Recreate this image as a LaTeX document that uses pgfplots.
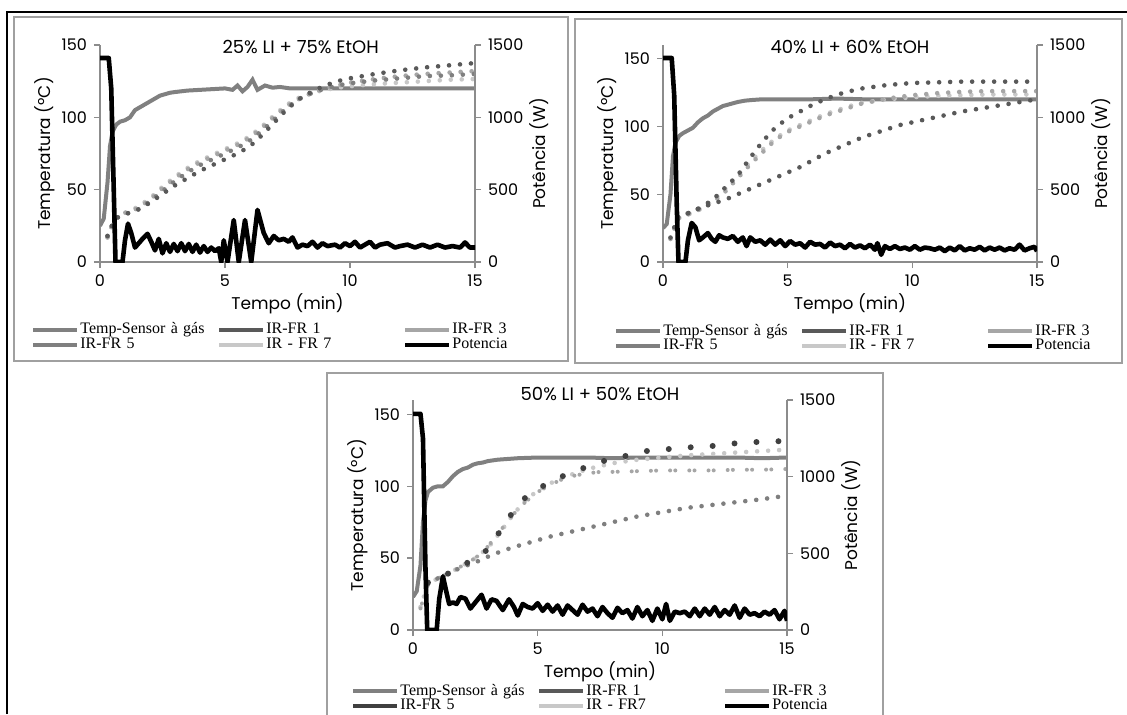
\documentclass[border=0pt]{standalone}
\usepackage{pgfplots}
\pgfplotsset{compat=1.18}
\usepackage{fontspec}
\setmainfont{Poppins}
\newfontfamily\legfont{Liberation Serif}

\definecolor{axgray}{HTML}{8C8C8C}
\definecolor{framegray}{HTML}{A0A0A0}
\definecolor{tsens}{HTML}{808080}
\definecolor{irA}{HTML}{595959}
\definecolor{irB}{HTML}{A6A6A6}
\definecolor{irC}{HTML}{7F7F7F}
\definecolor{irCdark}{HTML}{404040}
\definecolor{irD}{HTML}{C8C8C8}

\pgfplotsset{
  panel/.style={scale only axis, xmin=0, xmax=15, xtick={0,5,10,15},
    axis line style={draw=axgray, line width=0.7pt},
    every tick/.style={draw=axgray, line width=0.7pt},
    tick align=outside, major tick length=3pt,
    tick label style={font=\fontsize{8}{9}\selectfont},
    /pgf/number format/assume math mode=true,
    /pgf/number format/1000 sep={}},
  leftax/.style={panel, axis x line*=bottom, axis y line*=left,
    ymin=0, ytick={0,50,100,150},
    xlabel={Tempo (min)}, ylabel={Temperatura (ºC)},
    xlabel style={font=\fontsize{8.5}{9}\selectfont, at={(axis description cs:0.5,0)}, anchor=north, yshift=-12.5pt},
    ylabel style={font=\fontsize{8.5}{9}\selectfont, at={(axis description cs:-0.147,0.5)}, anchor=center},
    title style={font=\fontsize{9}{10}\selectfont, anchor=center}},
  rightax/.style={panel, axis x line=none, axis y line*=right,
    ymin=0, ymax=1500, ytick={0,500,1000,1500},
    ylabel={Potência (W)},
    ylabel style={font=\fontsize{8.5}{9}\selectfont, at={(axis description cs:1.172,0.5)}, anchor=center},
    legend columns=3,
    legend image code/.code={\draw[#1, solid, line width=2pt, line cap=butt] (0pt,0pt) -- (22pt,0pt);},
    legend style={draw=none, fill=none, anchor=north west,
      font=\legfont\fontsize{8}{8}\selectfont,
      nodes={inner sep=0.5pt, text width=68pt, align=left},
      row sep=-0.5pt, column sep=0pt}},
  tsline/.style={tsens, line width=2pt},
  pwline/.style={black, line width=2.3pt, line join=round},
  dots/.style={line width=2.3pt, line cap=round, dash pattern=on 0pt off 5.5pt},
}

\newcommand{\legimages}[1]{%
  \addlegendimage{tsens}\addlegendentry{Temp-Sensor à gás}
  \addlegendimage{irA}\addlegendentry{IR-FR 1}
  \addlegendimage{irB}\addlegendentry{IR-FR 3}
  \addlegendimage{#1}\addlegendentry{IR-FR 5}
  \addlegendimage{irD}}

\begin{document}
\begin{tikzpicture}
\useasboundingbox (0,0) rectangle (563.5pt,-357pt);
% outer lines and panel frames
\draw[black, line width=0.9pt] (3.5pt,-357pt) -- (3.5pt,-6pt) -- (563.5pt,-6pt);
\draw[framegray, line width=0.9pt] (7pt,-8.5pt) rectangle (284pt,-180.5pt);
\draw[framegray, line width=0.9pt] (287.5pt,-9.5pt) rectangle (561pt,-181.5pt);
\draw[framegray, line width=0.9pt] (163.5pt,-186.5pt) rectangle (441.5pt,-362pt);

% ---------- panel 1: 25% LI ----------
\begin{axis}[leftax, at={(50pt,-131pt)}, anchor=south west, width=187.5pt, height=108.5pt,
  ymax=150, title={25\% LI + 75\% EtOH}, title style={at={(axis description cs:0.535,1)}, yshift=-7pt}]
\addplot[tsline] coordinates {(0,25)(0.15,30)(0.3,55)(0.4,80)(0.5,90)(0.65,95)(0.8,97)(1.0,98)(1.2,100)(1.4,105)(1.6,107)(1.8,109)(2.0,111)(2.2,113)(2.4,115)(2.6,116)(2.8,117)(3.0,117.5)(3.5,118.5)(4.0,119)(4.5,119.5)(5.0,120)(5.3,119)(5.5,122)(5.7,118)(5.9,121)(6.1,126)(6.3,119)(6.6,122)(6.9,120.5)(7.2,121)(7.6,120)(8,120)(9,120)(10,120)(11,120)(12,120)(13,120)(14,120)(15,120)};
\addplot[dots, irD] coordinates {(0.3,17)(0.6,31)(1,34)(1.5,38)(2,44)(2.5,52)(3,59)(3.5,65)(4,70)(4.5,74)(5,78)(5.5,82)(6,87)(6.5,94)(7,102)(7.5,109)(8,114)(8.5,117)(9,119)(9.5,120.5)(10,121.5)(11,123)(12,124)(13,125)(14,126)(15,126.5)};
\addplot[dots, irB] coordinates {(0.3,17)(0.6,31)(1,34)(1.5,37)(2,43)(2.5,51)(3,58)(3.5,64)(4,69)(4.5,73)(5,77)(5.5,81)(6,86)(6.5,93)(7,101)(7.5,108)(8,113)(8.5,117)(9,120)(9.5,122)(10,124)(11,126.5)(12,128.5)(13,130)(14,131)(15,132)};
\addplot[dots, irC] coordinates {(0.3,18)(0.6,30)(1,33)(1.5,36)(2,42)(2.5,49)(3,56)(3.5,62)(4,67)(4.5,71)(5,75)(5.5,79)(6,84)(6.5,91)(7,99)(7.5,107)(8,113)(8.5,117)(9,120)(9.5,122)(10,123.5)(11,125.5)(12,127)(13,128.5)(14,129)(15,130)};
\addplot[dots, irA] coordinates {(0.3,18)(0.6,30)(1,33)(1.5,36)(2,41)(2.5,47)(3,53)(3.5,58)(4,63)(4.5,67)(5,71)(5.5,75)(6,80)(6.5,88)(7,97)(7.5,106)(8,113)(8.5,118)(9,122)(9.5,125)(10,127)(11,130)(12,132.5)(13,134.5)(14,136)(15,137.5)};
\end{axis}
\begin{axis}[rightax, at={(50pt,-131pt)}, anchor=south west, width=187.5pt, height=108.5pt,
  legend style={at={(axis description cs:-0.2,-0.255)}}]
\legimages{irC}\addlegendentry{IR - FR 7}
\addplot[pwline] coordinates {(0,1410)(0.35,1410)(0.45,1200)(0.55,500)(0.62,0)(0.9,0)(1.0,150)(1.12,265)(1.25,200)(1.4,100)(1.55,130)(1.7,160)(1.9,195)(2.05,140)(2.2,80)(2.35,160)(2.5,60)(2.65,130)(2.8,70)(2.95,125)(3.1,75)(3.25,130)(3.4,75)(3.55,125)(3.7,70)(3.85,120)(4.0,65)(4.15,110)(4.3,70)(4.45,100)(4.6,75)(4.75,95)(4.85,0)(4.95,150)(5.1,0)(5.35,290)(5.55,0)(5.8,290)(6.05,0)(6.3,360)(6.55,200)(6.75,130)(6.95,180)(7.15,150)(7.35,160)(7.55,140)(7.7,170)(7.9,100)(8.1,120)(8.3,110)(8.5,140)(8.7,100)(8.9,130)(9.1,110)(9.4,120)(9.6,100)(9.8,130)(10.0,110)(10.2,140)(10.4,100)(10.6,120)(10.8,140)(11.0,100)(11.2,120)(11.5,130)(11.8,100)(12.0,110)(12.3,120)(12.6,100)(12.9,120)(13.2,100)(13.5,120)(13.8,100)(14.1,110)(14.4,100)(14.6,135)(14.8,100)(15,100)};
\addlegendentry{Potencia}
\end{axis}

% ---------- panel 2: 40% LI ----------
\begin{axis}[leftax, at={(331.5pt,-131pt)}, anchor=south west, width=187pt, height=108.5pt,
  ymax=160, title={40\% LI + 60\% EtOH}, title style={at={(axis description cs:0.5,1)}, yshift=-7pt}]
\addplot[tsline] coordinates {(0,25)(0.15,28)(0.3,50)(0.4,78)(0.5,88)(0.65,93)(0.8,95)(1.0,97)(1.2,99)(1.4,103)(1.6,106)(1.8,108)(2.0,111)(2.2,113)(2.4,115)(2.6,116)(2.8,117)(3.0,118)(3.3,119)(3.6,119.5)(4,120)(5,120)(6,120)(7,120.5)(8,120)(9,120)(10,120)(11,120)(12,120)(13,120)(14,120)(15,120)};
\addplot[dots, irD] coordinates {(0.3,18)(0.6,32)(1,35)(1.5,39)(2,45)(2.5,54)(3,64)(3.5,74)(4,83)(4.5,91)(5,97)(5.5,101)(6,105)(6.5,109)(7,112)(7.5,115)(8,117.5)(9,120)(10,121.5)(11,122.5)(12,123)(13,123.5)(14,123.5)(15,123.5)};
\addplot[dots, irB] coordinates {(0.3,17)(0.6,32)(1,35)(1.5,39)(2,44)(2.5,52)(3,62)(3.5,72)(4,81)(4.5,90)(5,96)(5.5,100)(6,104)(6.5,108)(7,111)(7.5,114)(8,117)(9,120.5)(10,123)(11,124.5)(12,125.5)(13,126)(14,126)(15,126)};
\addplot[dots, irA] coordinates {(0.6,32)(1,36)(1.5,40)(2,43)(2.5,46)(3,50)(3.5,54)(4,58)(4.5,62)(5,66)(5.5,70)(6,75)(6.5,80)(7,84)(7.5,88)(8,92)(8.5,95)(9,98)(9.5,101)(10,103)(11,107)(12,111)(13,114)(14,117)(15,120)};
\addplot[dots, irA] coordinates {(0.3,18)(0.6,33)(1,36)(1.5,40)(2,46)(2.5,55)(3,64)(3.5,77)(4,89)(4.5,99)(5,106)(5.5,111)(6,116)(6.5,120)(7,123.5)(7.5,126)(8,128)(9,130.5)(10,132)(11,132.5)(12,133)(13,133)(14,133)(15,133)};
\end{axis}
\begin{axis}[rightax, at={(331.5pt,-131pt)}, anchor=south west, width=187pt, height=108.5pt,
  legend style={at={(axis description cs:-0.147,-0.262)}}]
\legimages{irC}\addlegendentry{IR - FR 7}
\addplot[pwline] coordinates {(0,1410)(0.35,1410)(0.45,1150)(0.55,400)(0.62,0)(0.9,0)(1.0,150)(1.15,270)(1.3,240)(1.45,150)(1.6,170)(1.8,200)(1.95,160)(2.1,140)(2.25,185)(2.4,170)(2.6,160)(2.8,180)(3.0,140)(3.2,170)(3.35,110)(3.5,170)(3.7,140)(3.9,150)(4.1,120)(4.3,155)(4.5,120)(4.7,150)(4.9,110)(5.1,145)(5.3,120)(5.5,130)(5.7,100)(5.9,140)(6.1,120)(6.3,125)(6.5,100)(6.7,135)(6.9,110)(7.1,120)(7.3,95)(7.5,125)(7.7,100)(7.9,115)(8.1,95)(8.3,120)(8.5,85)(8.6,130)(8.75,50)(8.9,110)(9.1,90)(9.3,110)(9.5,90)(9.7,100)(9.9,85)(10.1,110)(10.3,85)(10.5,100)(10.7,95)(10.9,85)(11.1,100)(11.3,75)(11.5,100)(11.7,80)(11.9,110)(12.1,80)(12.3,95)(12.5,85)(12.7,105)(12.9,80)(13.1,100)(13.3,85)(13.5,100)(13.7,80)(13.9,95)(14.1,85)(14.3,120)(14.5,80)(14.7,95)(14.9,105)(15,75)};
\addlegendentry{Potencia}
\end{axis}

% ---------- panel 3: 50% LI ----------
\begin{axis}[leftax, at={(206.5pt,-315pt)}, anchor=south west, width=187pt, height=115pt,
  ymax=160, title={50\% LI + 50\% EtOH}, title style={at={(axis description cs:0.5,1)}, yshift=-3pt}]
\addplot[tsline] coordinates {(0,23)(0.15,27)(0.3,45)(0.4,75)(0.5,90)(0.6,96)(0.8,99)(1.0,100)(1.2,100)(1.4,103)(1.6,107)(1.8,110)(2.0,112)(2.2,113)(2.4,115)(2.6,116)(2.8,116.5)(3.0,117.5)(3.4,118.5)(3.8,119)(4.2,119.5)(5,120)(6,120)(7,120)(8,119.5)(9,120)(10,120)(11,120)(12,120)(13,120)(14,119.5)(15,120)};
\addplot[dots, irD] coordinates {(0.3,16)(0.6,32)(1,36)(1.5,40)(2,45)(2.5,50)(3,57)(3.5,68)(4,80)(4.5,90)(5,97)(5.5,102)(6,106)(6.5,109)(7,112)(7.5,114)(8,116)(9,118.5)(10,120)(11,121.5)(12,122.5)(13,123.5)(14,124.5)(15,125.5)};
\addplot[irB, line width=2pt, line cap=round, dash pattern=on 0pt off 2.6pt on 0pt off 7pt] coordinates {(0.3,15)(0.6,32)(1,36)(1.5,40)(2,45)(2.5,50)(3,58)(3.5,69)(4,80)(4.5,89)(5,96)(5.5,101)(6,105)(6.5,107.5)(7,109)(7.5,110)(8,110)(9,110.5)(10,111)(11,111)(12,111)(13,111.5)(14,111.5)(15,112)};
\addplot[dots, irC] coordinates {(0.6,32)(1,36)(1.5,40)(2,44)(2.5,47)(3,51)(3.5,54.5)(4,57.5)(4.5,60)(5,62.5)(5.5,65)(6,67)(6.5,69)(7,71)(7.5,73)(8,75)(8.5,77)(9,79)(9.5,80.5)(10,82)(11,85)(12,87)(13,89)(14,91)(15,93.5)};
\addplot[irCdark, line width=3pt, line cap=round, dash pattern=on 0pt off 11pt] coordinates {(0.6,33)(1,36)(1.5,40)(2,45)(2.5,50)(3,56)(3.5,69)(4,82)(4.5,92)(5,98)(5.5,103)(6,107)(6.5,110)(7,114)(7.5,117)(8,119)(8.5,121)(9,123)(9.5,125)(10,125.5)(11,127)(12,128)(13,130)(14,131)(15,131.5)};
\end{axis}
\begin{axis}[rightax, at={(206.5pt,-315pt)}, anchor=south west, width=187pt, height=115pt,
  legend style={at={(axis description cs:-0.182,-0.212)}}]
\legimages{irCdark}\addlegendentry{IR - FR7}
\addplot[pwline] coordinates {(0,1410)(0.3,1410)(0.4,1250)(0.5,400)(0.57,0)(0.95,0)(1.05,200)(1.2,350)(1.35,240)(1.45,170)(1.6,180)(1.75,170)(1.9,215)(2.1,205)(2.3,140)(2.5,180)(2.75,230)(2.95,140)(3.15,200)(3.35,190)(3.6,130)(3.85,200)(4.05,150)(4.2,95)(4.4,170)(4.6,150)(4.8,140)(5.0,175)(5.2,125)(5.4,165)(5.6,120)(5.8,160)(6.0,100)(6.2,160)(6.4,130)(6.6,100)(6.8,165)(7.0,120)(7.2,140)(7.4,90)(7.6,150)(7.8,110)(8.0,80)(8.2,145)(8.4,110)(8.6,130)(8.8,75)(9.0,150)(9.2,90)(9.4,130)(9.6,60)(9.8,140)(10.0,70)(10.15,170)(10.3,60)(10.5,120)(10.7,110)(10.9,120)(11.1,90)(11.3,140)(11.5,90)(11.7,140)(11.9,100)(12.1,150)(12.3,90)(12.5,130)(12.7,100)(12.9,160)(13.1,80)(13.3,140)(13.5,100)(13.7,110)(13.9,90)(14.1,120)(14.3,100)(14.5,130)(14.7,70)(14.9,125)(15,60)};
\addlegendentry{Potencia}
\end{axis}
\end{tikzpicture}
\end{document}
